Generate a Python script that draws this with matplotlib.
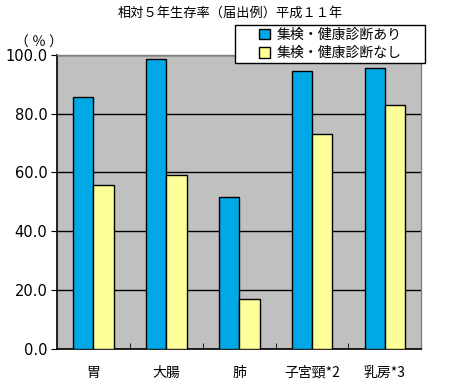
import numpy as np
import matplotlib.pyplot as plt
from matplotlib.patches import Rectangle

plt.rcParams['font.family'] = ['Noto Sans CJK JP', 'DejaVu Sans']

categories = ['胃', '大腸', '肺', '子宮頸*2', '乳房*3']
with_screening = [85.5, 98.5, 51.6, 94.5, 95.5]
without_screening = [55.6, 59.1, 17.0, 73.0, 83.0]
series_names = ['集検・健康診断あり', '集検・健康診断なし']
title = '相対５年生存率（届出例）平成１１年'

fig = plt.figure(figsize=(4.6, 3.8), dpi=100)
ax = fig.add_axes([0.124, 0.082, 0.792, 0.774])
ax.set_facecolor('#C0C0C0')

x = np.arange(len(categories))
w = 0.28
b1 = ax.bar(x - w / 2, with_screening, w, color='#00A8E6', edgecolor='black', linewidth=1, zorder=3)
b2 = ax.bar(x + w / 2, without_screening, w, color='#FFFF99', edgecolor='black', linewidth=1, zorder=3)

ax.set_xlim(-0.5, len(categories) - 0.5)
ax.set_ylim(0, 100)
ax.set_yticks(np.arange(0, 101, 20))
ax.set_yticklabels([f'{v:.1f}' for v in np.arange(0, 101, 20)], fontsize=10.5, family='DejaVu Sans')
ax.yaxis.grid(True, color='black', linewidth=1, zorder=1)
ax.set_axisbelow(True)

ax.set_xticks(x)
ax.set_xticklabels(categories, fontsize=10)
ax.tick_params(axis='x', length=0, pad=12)
ax.set_xticks(np.arange(0.5, len(categories) - 0.5), minor=True)
ax.tick_params(axis='x', which='minor', direction='in', length=4, color='black')
ax.tick_params(axis='y', direction='out', length=4, color='black', pad=3)

for s in ['left', 'bottom']:
    ax.spines[s].set_color('black')
    ax.spines[s].set_linewidth(1.2)
for s in ['top', 'right']:
    ax.spines[s].set_color('#808080')
    ax.spines[s].set_linewidth(1)

fig.text(0.50, 0.965, title, ha='center', va='center', fontsize=9.5)
fig.text(0.085, 0.888, '（ ％ ）', ha='center', va='center', fontsize=10)

# legend box (wider than the entries, as in the original)
box = Rectangle((0.511, 0.834), 0.413, 0.1, transform=fig.transFigure,
                facecolor='white', edgecolor='black', linewidth=1, zorder=9)
fig.patches.append(box)
leg = fig.legend([b1, b2], series_names, loc='center',
                 bbox_to_anchor=(0.511 + 0.413 / 2, 0.884),
                 fontsize=10, frameon=False,
                 handlelength=0.8, handleheight=0.8, handletextpad=0.5,
                 borderpad=0.1, labelspacing=0.3, borderaxespad=0)
leg.set_zorder(10)

fig.savefig('out.png', dpi=100)
